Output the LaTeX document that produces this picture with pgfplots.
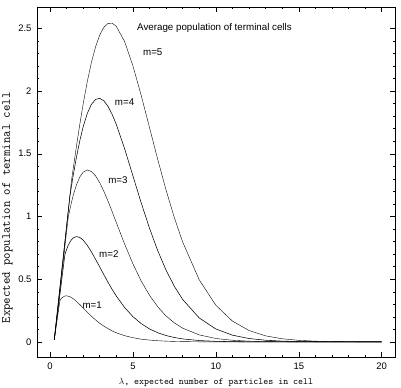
\documentclass[border=0pt]{standalone}
\usepackage{fontspec}
\setmainfont{Liberation Sans}
\usepackage{pgfplots}
\pgfplotsset{compat=1.18}
\begin{document}
\begin{tikzpicture}
\begin{axis}[
  scale only axis, width=358bp, height=350bp,
  xmin=-0.78, xmax=20.8, ymin=-0.12, ymax=2.67,
  xtick={0,5,10,15,20}, ytick={0,0.5,1,1.5,2,2.5},
  minor x tick num=4, minor y tick num=4,
  tick align=inside, major tick length=5bp, minor tick length=2.5bp,
  tick style={black, line width=0.5pt},
  axis line style={line width=0.6pt},
  /pgf/number format/assume math mode=true,
  tick label style={font=\fontsize{9.5}{10}\selectfont},
  yticklabel shift=2bp,
  xticklabel shift=2bp,
  xlabel={\fontsize{9.5}{11}\selectfont\ttfamily $\lambda$, expected number of particles in cell},
  xlabel style={at={(rel axis cs:0.5,0)}, anchor=center, yshift=-25bp},
  ylabel={\fontsize{12.5}{14}\selectfont\ttfamily Expected population of terminal cell},
  ylabel style={at={(rel axis cs:0,0.426)}, anchor=center, yshift=29.5bp, inner sep=0pt},
  cycle list={{black, line width=0.55pt}},
  clip=false,
]
\coordinate (bl) at (rel axis cs:0,0);
\coordinate (tr) at (rel axis cs:1,1);

% m = 1
\addplot coordinates {
(0.26,0.016) (0.6,0.329) (0.7,0.348) (0.8,0.359) (0.9,0.366) (1.0,0.368)
(1.2,0.361) (1.4,0.345) (1.6,0.323) (1.8,0.298) (2.0,0.271) (2.25,0.237)
(2.5,0.205) (2.75,0.176) (3.0,0.149) (3.25,0.126) (3.5,0.106) (3.75,0.088)
(4.0,0.073) (4.5,0.050) (5.0,0.034) (5.5,0.022) (6.0,0.015) (6.5,0.0098)
(7.0,0.0064) (7.5,0.0041) (8.0,0.0027) (9.0,0.0011) (10,0.0005) (12,0.0001) (20,0)
};
% m = 2
\addplot coordinates {
(0.26,0.016) (0.9,0.695) (1.0,0.736) (1.1,0.769) (1.2,0.795) (1.3,0.815)
(1.4,0.829) (1.6,0.840) (1.8,0.833) (2.0,0.812) (2.25,0.771) (2.5,0.718)
(2.75,0.659) (3.0,0.598) (3.25,0.536) (3.5,0.476) (3.75,0.419) (4.0,0.366)
(4.5,0.275) (5.0,0.202) (5.5,0.146) (6.0,0.104) (6.5,0.0733) (7.0,0.0511)
(7.5,0.0353) (8.0,0.0242) (9.0,0.0111) (10,0.0050) (11,0.0022) (12,0.0010)
(14,0.0002) (20,0)
};
% m = 3
\addplot coordinates {
(0.26,0.016) (1.1,0.991) (1.2,1.055) (1.3,1.114) (1.4,1.167) (1.6,1.253)
(1.8,1.315) (2.0,1.353) (2.25,1.371) (2.5,1.359) (2.75,1.324) (3.0,1.270)
(3.25,1.201) (3.5,1.123) (3.75,1.039) (4.0,0.952) (4.5,0.781) (5.0,0.623)
(5.5,0.486) (6.0,0.372) (6.5,0.280) (7.0,0.207) (7.5,0.152) (8.0,0.110)
(9.0,0.0561) (10,0.0277) (11,0.0133) (12,0.0063) (13,0.0029) (14,0.0013)
(16,0.0003) (20,0)
};
% m = 4
\addplot coordinates {
(0.26,0.016) (1.2,1.159) (1.3,1.244) (1.4,1.325) (1.6,1.474) (1.8,1.604)
(2.0,1.714) (2.25,1.821) (2.5,1.894) (2.75,1.933) (3.0,1.942) (3.25,1.922)
(3.5,1.878) (3.75,1.814) (4.0,1.734) (4.5,1.541) (5.0,1.325) (5.5,1.109)
(6.0,0.907) (6.5,0.727) (7.0,0.572) (7.5,0.443) (8.0,0.339) (9.0,0.191)
(10,0.1034) (11,0.0541) (12,0.0275) (13,0.0137) (14,0.0066) (15,0.0032)
(16,0.0015) (18,0.0003) (20,0)
};
% m = 5
\addplot coordinates {
(0.26,0.016) (1.3,1.286) (1.4,1.380) (1.6,1.562) (1.8,1.734) (2.0,1.895)
(2.25,2.075) (2.5,2.228) (2.75,2.352) (3.0,2.446) (3.25,2.508) (3.5,2.539)
(3.75,2.541) (4.0,2.516) (4.5,2.395) (5.0,2.202) (5.5,1.966) (6.0,1.710)
(6.5,1.454) (7.0,1.211) (7.5,0.990) (8.0,0.797) (9.0,0.495) (10,0.2926)
(11,0.1661) (12,0.0912) (13,0.0486) (14,0.0253) (15,0.0129) (16,0.0064)
(17,0.0031) (18,0.0015) (19,0.0007) (20,0.0003)
};

\begin{scope}[font=\fontsize{9.8}{11}\selectfont]
\node[anchor=west] at (axis cs:5.05,2.50) {Average population of terminal cells};
\node at (axis cs:6.2,2.31) {m=5};
\node at (axis cs:4.5,1.91) {m=4};
\node at (axis cs:4.1,1.29) {m=3};
\node at (axis cs:3.55,0.70) {m=2};
\node at (axis cs:2.55,0.29) {m=1};
\end{scope}
\end{axis}
\pgfresetboundingbox
\path ([xshift=-37bp,yshift=-31bp]bl) rectangle ([xshift=6bp,yshift=7bp]tr);
\end{tikzpicture}
\end{document}
